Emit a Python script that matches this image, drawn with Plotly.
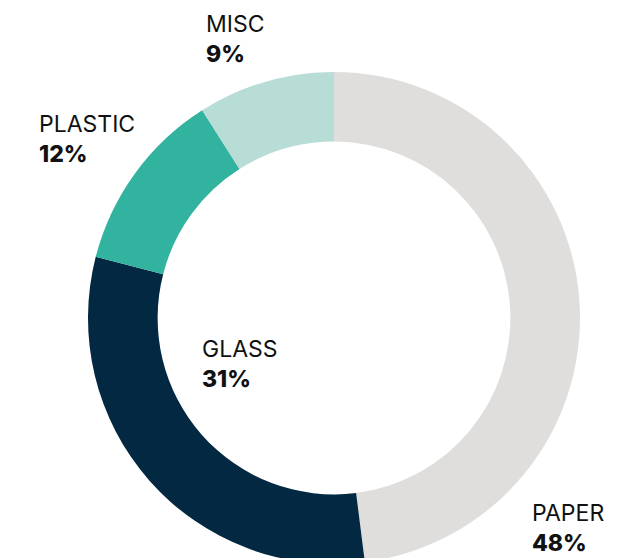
import plotly.graph_objects as go

# Waste composition by material
materials = ["PAPER", "GLASS", "PLASTIC", "MISC"]
shares = [48, 31, 12, 9]
slice_colors = ["#dfdedc", "#022842", "#32b39f", "#b8dcd6"]

# Figure geometry (pixels)
W, H = 643, 570
M_L, M_R, M_T, M_B = 88, 63, 72, 6
PW, PH = W - M_L - M_R, H - M_T - M_B

# Top-left corner of each label block, in pixels from the page's top-left
label_px = {
    "PAPER": (530, 497),
    "GLASS": (200, 333),
    "PLASTIC": (37, 108),
    "MISC": (204, 8),
}


def to_paper(px, py):
    return (px - M_L) / PW, 1 - (py - M_T) / PH


fig = go.Figure(
    go.Pie(
        labels=materials,
        values=shares,
        hole=0.717,
        sort=False,
        direction="clockwise",
        rotation=0,
        marker=dict(colors=slice_colors, line=dict(width=0)),
        textinfo="none",
        hoverinfo="label+percent",
        showlegend=False,
        domain=dict(x=[0, 1], y=[0, 1]),
    )
)

for name, val in zip(materials, shares):
    x, y = to_paper(*label_px[name])
    fig.add_annotation(
        x=x,
        y=y,
        xref="paper",
        yref="paper",
        xanchor="left",
        yanchor="top",
        align="left",
        showarrow=False,
        text=f"{name}<br><span style='font-weight:800'>{val}%</span>",
        font=dict(family="Inter, Roboto, sans-serif", size=23, color="#111111"),
    )

fig.update_layout(
    width=W,
    height=H,
    margin=dict(l=M_L, r=M_R, t=M_T, b=M_B, pad=0),
    paper_bgcolor="white",
    plot_bgcolor="white",
)

fig.write_html(
    "out.html",
    post_script="document.documentElement.style.overflow='hidden';document.body.style.overflow='hidden';document.body.style.margin='0';",
)
